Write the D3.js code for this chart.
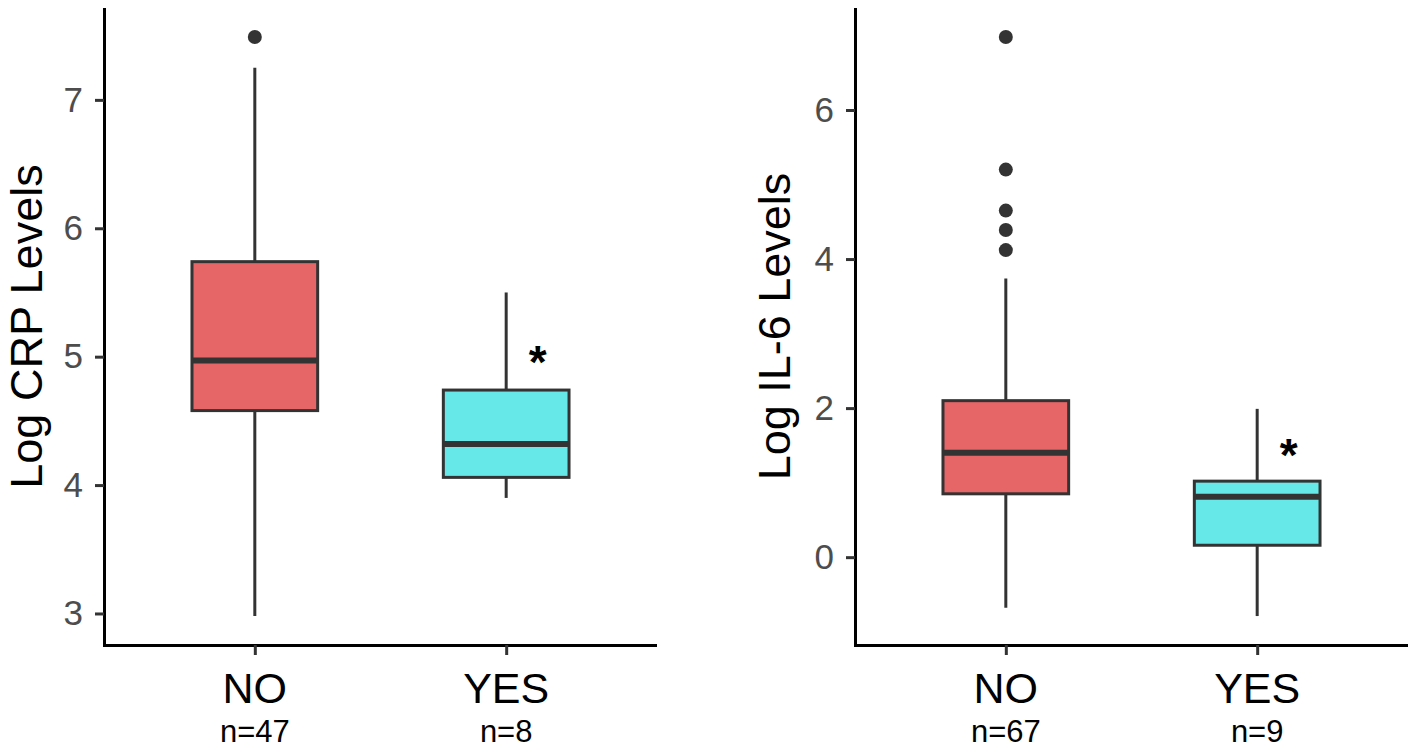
<!DOCTYPE html>
<html>
<head>
<meta charset="utf-8">
<script src="https://cdn.jsdelivr.net/npm/d3@7"></script>
<style>
  body { margin: 0; background: #fff; }
  svg { display: block; font-family: "Liberation Sans", Arial, Helvetica, sans-serif; }
</style>
</head>
<body>
<svg id="canvas"></svg>
<script>
// groups + sample sizes
const groups = ["NO", "YES"];
const crpCounts = [47, 8];
const il6Counts = [67, 9];

// CRP box stats
const crpLower  = [2.98, 3.90];
const crpQ1     = [4.58, 4.06];
const crpMedian = [4.97, 4.32];
const crpQ3     = [5.74, 4.74];
const crpUpper  = [7.25, 5.50];
const crpOutliers = [[7.49], []];
const crpTicks = [3, 4, 5, 6, 7];
const crpStar = 5.02;

// IL-6 box stats
const il6Lower  = [-0.68, -0.79];
const il6Q1     = [0.85, 0.16];
const il6Median = [1.40, 0.81];
const il6Q3     = [2.10, 1.02];
const il6Upper  = [3.74, 1.99];
const il6Outliers = [[6.98, 5.20, 4.65, 4.39, 4.12], []];
const il6Ticks = [0, 2, 4, 6];
const il6Star = 1.48;

const fills = ["#e66566", "#66e8e8"];

const svg = d3.select("#canvas");
const width = 1417;
const height = 752;
svg.attr("width", width).attr("height", height);

const plotTop = 8, plotBottom = 645;

function panel(p) {
    // ggplot style: 5% expansion on continuous axis
    const all = p.lower.concat(p.upper, ...p.outliers);
    const lo = d3.min(all), hi = d3.max(all);
    const pad = (hi - lo) * 0.05;
    const yScale = d3.scaleLinear()
        .domain([lo - pad, hi + pad])
        .range([plotBottom, plotTop]);

    const xScale = d3.scalePoint()
        .domain(groups)
        .range([p.x0, p.x1])
        .padding(0.6);
    const boxW = xScale.step() * 0.5;

    const g = svg.append("g");

    // whiskers
    g.selectAll(".whisker")
        .data(groups)
        .join("line")
            .attr("x1", d => xScale(d))
            .attr("x2", d => xScale(d))
            .attr("y1", (d, i) => yScale(p.lower[i]))
            .attr("y2", (d, i) => yScale(p.upper[i]))
            .attr("stroke", "#333")
            .attr("stroke-width", 3);

    // boxes
    g.selectAll(".box")
        .data(groups)
        .join("rect")
            .attr("x", d => xScale(d) - boxW / 2)
            .attr("y", (d, i) => yScale(p.q3[i]))
            .attr("width", boxW)
            .attr("height", (d, i) => yScale(p.q1[i]) - yScale(p.q3[i]))
            .attr("fill", (d, i) => fills[i])
            .attr("stroke", "#333")
            .attr("stroke-width", 3);

    // medians
    g.selectAll(".median")
        .data(groups)
        .join("line")
            .attr("x1", d => xScale(d) - boxW / 2)
            .attr("x2", d => xScale(d) + boxW / 2)
            .attr("y1", (d, i) => yScale(p.median[i]))
            .attr("y2", (d, i) => yScale(p.median[i]))
            .attr("stroke", "#333")
            .attr("stroke-width", 6);

    // outliers
    const pts = groups.flatMap((grp, i) => p.outliers[i].map(v => ({grp, v})));
    g.selectAll(".outlier")
        .data(pts)
        .join("circle")
            .attr("cx", d => xScale(d.grp))
            .attr("cy", d => yScale(d.v))
            .attr("r", 7)
            .attr("fill", "#333");

    // significance star (glyph centre at star value)
    g.append("text")
        .attr("x", xScale("YES") + xScale.step() * 0.125)
        .attr("y", yScale(p.star) + 24)
        .attr("text-anchor", "middle")
        .attr("font-size", 46)
        .attr("font-weight", "bold")
        .attr("fill", "#000")
        .text("*");

    // y axis
    const yAxis = g.append("g")
        .attr("transform", `translate(${p.x0},0)`)
        .call(d3.axisLeft(yScale).tickValues(p.ticks).tickFormat(d3.format("d"))
            .tickSize(9).tickPadding(12).tickSizeOuter(0));
    yAxis.select(".domain").attr("stroke", "#000").attr("stroke-width", 3)
        .attr("d", `M0.5,${plotTop}V${plotBottom + 1.5}`);
    yAxis.selectAll(".tick line").attr("stroke", "#333").attr("stroke-width", 3);
    yAxis.selectAll(".tick text")
        .attr("fill", "#4d4d4d")
        .attr("font-size", 35)
        .attr("font-family", "Liberation Sans, Arial, sans-serif");

    // x axis
    const xAxis = g.append("g")
        .attr("transform", `translate(0,${plotBottom})`)
        .call(d3.axisBottom(xScale).tickSize(10).tickSizeOuter(0).tickFormat(""));
    xAxis.select(".domain").attr("stroke", "#000").attr("stroke-width", 3)
        .attr("d", `M${p.x0 - 1},0.5H${p.x1}`);
    xAxis.selectAll(".tick line").attr("stroke", "#333").attr("stroke-width", 3);

    // category labels + n
    g.selectAll(".cat")
        .data(groups)
        .join("text")
            .attr("x", d => xScale(d))
            .attr("y", 703)
            .attr("text-anchor", "middle")
            .attr("font-size", 43)
            .attr("fill", "#000")
            .text(d => d);
    g.selectAll(".n")
        .data(groups)
        .join("text")
            .attr("x", d => xScale(d))
            .attr("y", 742)
            .attr("text-anchor", "middle")
            .attr("font-size", 31)
            .attr("fill", "#000")
            .text((d, i) => "n=" + p.counts[i]);

    // y title
    g.append("text")
        .attr("transform", `translate(${p.titleX},${(plotTop + plotBottom) / 2}) rotate(-90)`)
        .attr("text-anchor", "middle")
        .attr("font-size", 45)
        .attr("fill", "#000")
        .text(p.title);
}

panel({
    x0: 104, x1: 657, titleX: 42,
    lower: crpLower, q1: crpQ1, median: crpMedian, q3: crpQ3, upper: crpUpper,
    outliers: crpOutliers, ticks: crpTicks, star: crpStar, counts: crpCounts,
    title: "Log CRP Levels"
});

panel({
    x0: 855, x1: 1408, titleX: 790,
    lower: il6Lower, q1: il6Q1, median: il6Median, q3: il6Q3, upper: il6Upper,
    outliers: il6Outliers, ticks: il6Ticks, star: il6Star, counts: il6Counts,
    title: "Log IL-6 Levels"
});
</script>
</body>
</html>
